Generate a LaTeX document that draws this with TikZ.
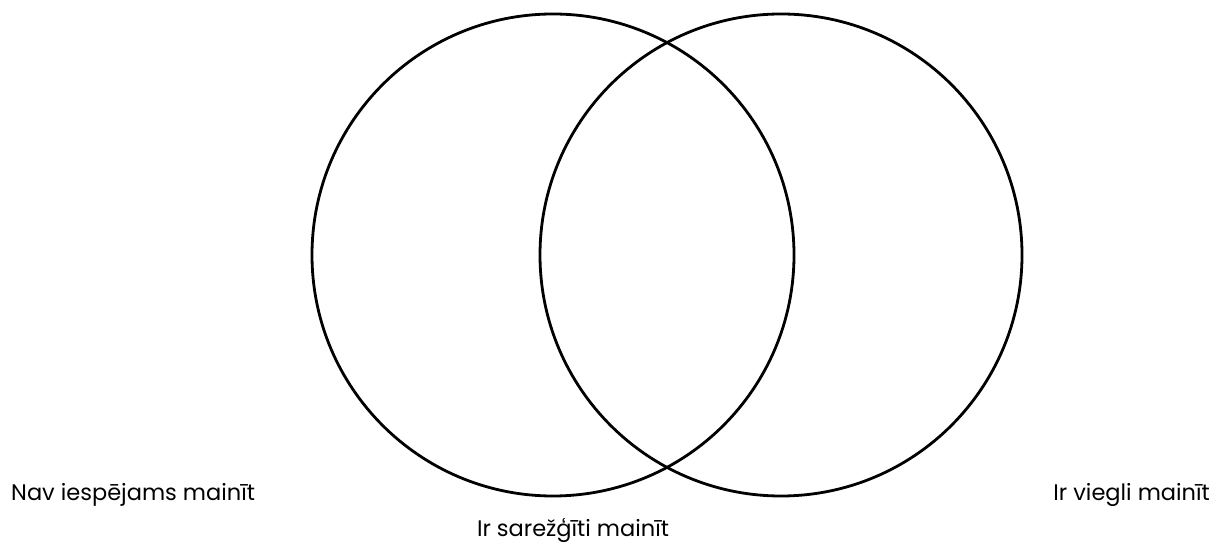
\documentclass[tikz,border=0pt]{standalone}
\usepackage{fontspec}
\setmainfont{Poppins}
\usepackage{xcolor}
\usetikzlibrary{positioning}
\definecolor{ink}{RGB}{0,0,0}
\tikzset{
  ring/.style={draw=ink, circle, line width=2.8pt, minimum size=482pt, inner sep=0pt},
  lbl/.style={font=\fontsize{22.5}{26}\selectfont, text=ink, inner sep=0pt},
}
\begin{document}
\begin{tikzpicture}[x=1pt, y=1pt]
  \useasboundingbox (0,0) rectangle (1217,545);
  \node[ring] (fixed) at (553,290) {};
  \node[ring] (easy) at (781,290) {};
  \node[lbl, anchor=base west] (nochange) at (11,44) {Nav iespējams mainīt};
  \node[lbl, anchor=base] (hard) at (573,8) {Ir sarežģīti mainīt};
  \node[lbl, anchor=base east] (simple) at (1210,44) {Ir viegli mainīt};
\end{tikzpicture}
\end{document}
